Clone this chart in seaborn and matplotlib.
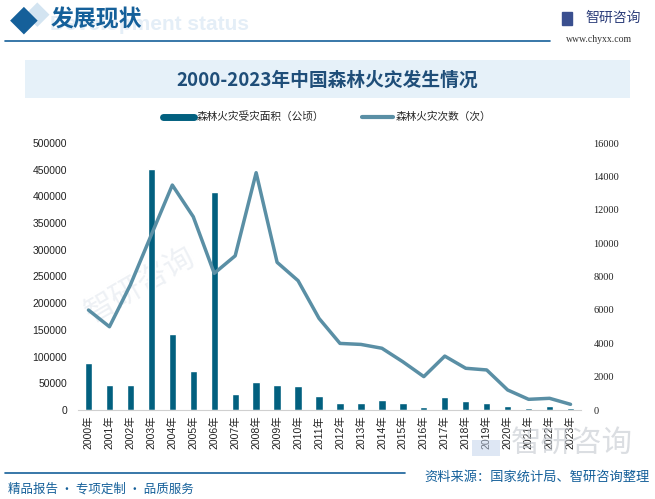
import numpy as np
import pandas as pd
import matplotlib.pyplot as plt
from matplotlib.lines import Line2D
from matplotlib.patches import Rectangle
import seaborn as sns

# data
years = [str(y) + "年" for y in range(2000, 2024)]
area = [88600, 46800, 46800, 451000, 142900, 73600, 408000, 30000, 53000, 46800,
        45000, 26200, 13100, 13100, 18700, 13100, 5600, 24300, 16900, 13100,
        7500, 3700, 7500, 3700]
fires = [5990, 4990, 7500, 10500, 13480, 11580, 8190, 9240, 14220, 8850,
         7750, 5490, 3990, 3930, 3700, 2890, 2000, 3230, 2500, 2400,
         1200, 640, 700, 340]
left_ticks = list(range(0, 500001, 50000))
right_ticks = list(range(0, 16001, 2000))

bar_color = "#02607F"
line_color = "#5A8FA5"
dark_blue = "#15609A"

sns.set_style("white")
plt.rcParams['font.family'] = ['Liberation Sans', 'Noto Sans CJK SC', 'DejaVu Sans']

df = pd.DataFrame({"year": years, "area": area, "fires": fires})

fig = plt.figure(figsize=(6.55, 4.99), dpi=100)
W, H = 655, 499

# faint watermarks (behind everything)
fig.text(140 / W, 1 - 285 / H, "智研咨询", color="#EEF1F5", fontsize=22, rotation=30,
         ha="center", va="center", family=['Noto Sans CJK SC'], zorder=-1)

# header
fig.text(37 / W, 1 - 15 / H, "◆", color="#D3E4F1", fontsize=23, ha="center", va="center",
         family=['DejaVu Sans'])
fig.text(24 / W, 1 - 20 / H, "◆", color=dark_blue, fontsize=26, ha="center", va="center",
         family=['DejaVu Sans'])
fig.text(50 / W, 1 - 24 / H, "Development status", color="#E4EEF7", fontsize=15,
         fontweight="bold", ha="left", va="center")
fig.text(51 / W, 1 - 20 / H, "发展现状", color=dark_blue, fontsize=16.5, fontweight="bold",
         ha="left", va="center", family=['Noto Sans CJK SC'])
fig.add_artist(Line2D([5 / W, 550 / W], [1 - 40.5 / H, 1 - 40.5 / H], color=dark_blue, lw=1.2))
fig.add_artist(Rectangle((562 / W, 1 - 25 / H), 10 / W, 13 / H, color="#3A4F8F"))
fig.text(585 / W, 1 - 18 / H, "智研咨询", color="#2D3E7A", fontsize=10, ha="left", va="center",
         family=['Noto Sans CJK SC'])
fig.text(599 / W, 1 - 40 / H, "www.chyxx.com", color="#333333", fontsize=7, ha="center",
         va="center", family=['Liberation Serif'])

# title band
fig.add_artist(Rectangle((25 / W, 1 - 98 / H), 605 / W, 38 / H, color="#E6F1F9", lw=0))
fig.text(327 / W, 1 - 80 / H, "2000-2023年中国森林火灾发生情况", color="#1F4E79", fontsize=13.5,
         fontweight="bold", ha="center", va="center", family=['Noto Sans CJK SC'])

ax = fig.add_axes([78 / W, 1 - 410 / H, 503 / W, 267 / H])
ax.patch.set_alpha(0)
sns.barplot(data=df, x="year", y="area", color=bar_color, width=0.35, saturation=1, ax=ax)
ax.set_ylim(0, 500000)
ax.set_yticks(left_ticks)
ax.set_yticklabels([str(t) for t in left_ticks], fontsize=7.5, color="#222222")
ax.set_xlim(-0.5, len(years) - 0.5)
ax.set_xlabel("")
ax.set_ylabel("")
ax.tick_params(axis="x", rotation=90, labelsize=7.5, length=0, pad=4, colors="#222222")
ax.tick_params(axis="y", length=0, pad=8)
for s in ["top", "right", "left"]:
    ax.spines[s].set_visible(False)
ax.spines["bottom"].set_color("#D0D0D0")

ax2 = ax.twinx()
sns.lineplot(x=np.arange(len(years)), y=fires, color=line_color, lw=2.5, ax=ax2)
ax2.set_ylim(0, 16000)
ax2.set_yticks(right_ticks)
ax2.set_yticklabels([str(t) for t in right_ticks], fontsize=7.5, color="#222222",
                    family=['Liberation Serif'])
ax2.tick_params(axis="y", length=0, pad=9)
for s in ["top", "right", "left", "bottom"]:
    ax2.spines[s].set_visible(False)

handles = [Line2D([], [], color=bar_color, lw=5), Line2D([], [], color=line_color, lw=3)]
fig.legend(handles, ["森林火灾受灾面积（公顷）", "森林火灾次数（次）"], loc="center",
           bbox_to_anchor=(327 / W, 1 - 117 / H), ncol=2, frameon=False,
           handlelength=2.9, handletextpad=0.25, columnspacing=3.6,
           prop={'family': ['Noto Sans CJK SC'], 'size': 7.7})

# bottom-right watermark
fig.add_artist(Rectangle((472 / W, 1 - 456 / H), 28 / W, 16 / H, color="#BFD0EA", alpha=0.5, lw=0))
fig.text(572 / W, 1 - 443 / H, "智研咨询", color="#C4C8CF", alpha=0.6, fontsize=22,
         ha="center", va="center", family=['Noto Sans CJK SC'])

# footer
fig.add_artist(Line2D([5 / W, 405 / W], [1 - 473 / H, 1 - 473 / H], color=dark_blue, lw=1.2))
fig.text(8 / W, 1 - 489 / H, "精品报告 · 专项定制 · 品质服务", color=dark_blue, fontsize=9,
         ha="left", va="center", family=['Noto Sans CJK SC'])
fig.text(650 / W, 1 - 477 / H, "资料来源：国家统计局、智研咨询整理", color=dark_blue, fontsize=9.5,
         ha="right", va="center", family=['Noto Sans CJK SC'])

fig.savefig("out.png", dpi=100)
